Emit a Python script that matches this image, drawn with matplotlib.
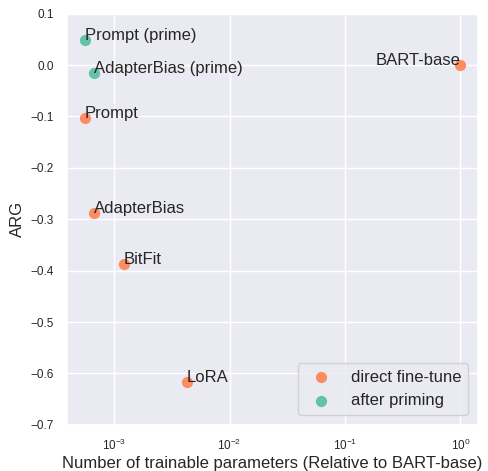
import matplotlib
matplotlib.use("Agg")
import matplotlib.pyplot as plt
import seaborn as sns

sns.set_theme(style="darkgrid")
plt.rcParams["font.family"] = ["Liberation Sans", "DejaVu Sans"]

# direct fine-tune
ft_names = ["BART-base", "Prompt", "AdapterBias", "BitFit", "LoRA"]
ft_params = [1.0, 5.6e-4, 6.7e-4, 1.21e-3, 4.28e-3]
ft_arg = [0.0, -0.103, -0.288, -0.388, -0.617]

# after priming
pr_names = ["Prompt (prime)", "AdapterBias (prime)"]
pr_params = [5.6e-4, 6.7e-4]
pr_arg = [0.049, -0.015]

c_ft = "#fc8d62"
c_pr = "#66c2a5"

fig, ax = plt.subplots(figsize=(4.89, 4.71), dpi=100)
ax.scatter(ft_params, ft_arg, s=50, color=c_ft, label="direct fine-tune", zorder=3)
ax.scatter(pr_params, pr_arg, s=50, color=c_pr, label="after priming", zorder=3)

for n, x, y in zip(ft_names, ft_params, ft_arg):
    ha = "right" if n == "BART-base" else "left"
    ax.text(x, y, n, ha=ha, fontsize=12, color="#262626", zorder=4)
for n, x, y in zip(pr_names, pr_params, pr_arg):
    ax.text(x, y, n, fontsize=12, color="#262626", zorder=4)

ax.set_xscale("log")
ax.set_xlim(3.9e-4, 1.43)
ax.set_ylim(-0.7, 0.1)
ax.minorticks_off()
ax.tick_params(labelsize=8.5)
ax.set_xlabel("Number of trainable parameters (Relative to BART-base)", fontsize=12, labelpad=2)
ax.set_ylabel("ARG", fontsize=12)
ax.legend(loc="lower right", fontsize=12, borderaxespad=0.6)

fig.subplots_adjust(left=0.137, right=0.978, top=0.971, bottom=0.098)
fig.savefig("out.png")
